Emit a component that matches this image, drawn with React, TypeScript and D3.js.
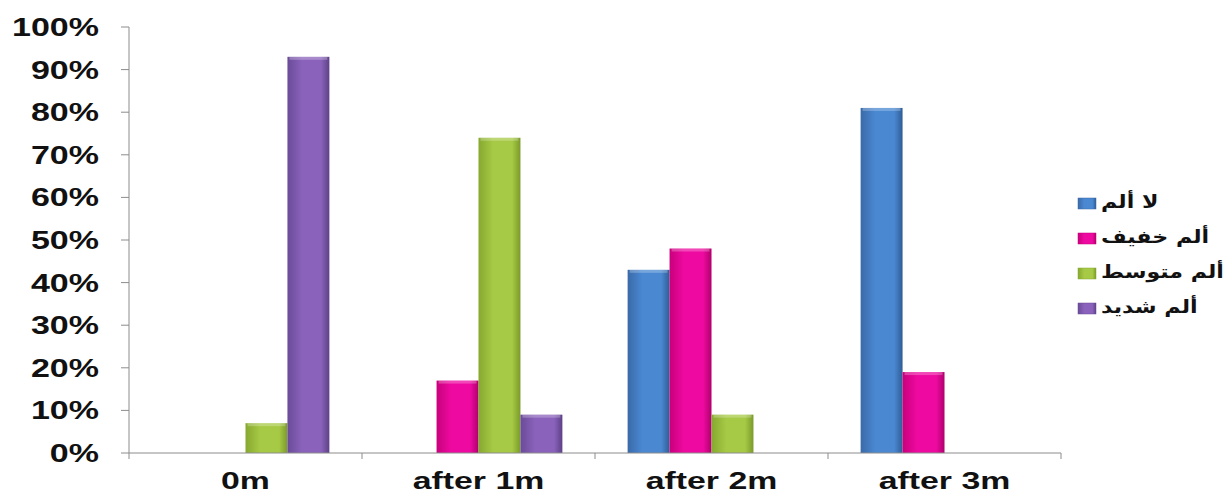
import React from "react";
import * as d3 from "d3";

const categories = ["0m", "after 1m", "after 2m", "after 3m"];
const seriesNames = ["لا ألم", "ألم خفيف", "ألم متوسط", "ألم شديد"];
const noPain = [0, 0, 43, 81];
const mildPain = [0, 17, 48, 19];
const moderatePain = [7, 74, 9, 0];
const severePain = [93, 9, 0, 0];
const yTicks = [0, 10, 20, 30, 40, 50, 60, 70, 80, 90, 100];

const seriesValues = [noPain, mildPain, moderatePain, severePain];
const colors = [
  { l: "#3a6aa8", m: "#4a88d2", d: "#2f5d96" },
  { l: "#c8007c", m: "#ee0aa0", d: "#b0006c" },
  { l: "#86a830", m: "#a6ca45", d: "#7a9a2a" },
  { l: "#6a4b98", m: "#8a62bb", d: "#5d4186" },
];

const W = 1226;
const H = 493;
const left = 129;
const right = 1061;
const top = 27;
const bottom = 453;
const SX = 1.36;

export default function App() {
  const x0 = d3.scaleBand().domain(categories).range([left, right]).paddingInner(0).paddingOuter(0);
  const inner = x0.bandwidth() * 0.72;
  const x1 = d3
    .scaleBand()
    .domain(seriesNames)
    .range([(x0.bandwidth() - inner) / 2, (x0.bandwidth() + inner) / 2])
    .padding(0);
  const y = d3.scaleLinear().domain([0, 100]).range([bottom, top]);
  const font = "'Liberation Sans', Arial, 'DejaVu Sans', sans-serif";
  const boundaries = d3.range(categories.length + 1).map((i) => left + i * x0.bandwidth());

  return (
    <svg width={W} height={H} style={{ position: "absolute", left: 0, top: 0, background: "#fff" }}>
      <defs>
        {colors.map((c, i) => (
          <linearGradient key={i} id={`g${i}`} x1="0" x2="1" y1="0" y2="0">
            <stop offset="0" stopColor={c.l} />
            <stop offset="0.35" stopColor={c.m} />
            <stop offset="0.8" stopColor={c.m} />
            <stop offset="1" stopColor={c.d} />
          </linearGradient>
        ))}
      </defs>
      {/* bars */}
      {categories.map((cat, ci) => (
        <g key={cat} transform={`translate(${x0(cat)},0)`}>
          {seriesNames.map((s, si) => {
            const v = seriesValues[si][ci];
            if (!v) return null;
            const bx = x1(s)!;
            const bw = x1.bandwidth();
            const by = y(v);
            return (
              <g key={s}>
                <rect x={bx} y={by} width={bw} height={bottom - by} fill={`url(#g${si})`} />
                <rect x={bx + 2} y={by} width={bw - 4} height={3} fill="#ffffff" opacity={0.25} />
              </g>
            );
          })}
        </g>
      ))}
      {/* y axis */}
      <line x1={left} x2={left} y1={top} y2={bottom} stroke="#8c8c8c" strokeWidth={1} />
      {yTicks.map((t) => (
        <g key={t}>
          <line x1={left - 8} x2={left} y1={y(t)} y2={y(t)} stroke="#8c8c8c" />
          <text
            transform={`translate(99,${y(t)}) scale(${SX},1)`}
            dy="0.36em"
            textAnchor="end"
            fontFamily={font}
            fontWeight="bold"
            fontSize={25}
            fill="#111"
          >
            {t}%
          </text>
        </g>
      ))}
      {/* x axis */}
      <line x1={left} x2={right} y1={bottom} y2={bottom} stroke="#8c8c8c" strokeWidth={1} />
      {boundaries.map((b, i) => (
        <line key={i} x1={b} x2={b} y1={bottom} y2={bottom + 6} stroke="#8c8c8c" />
      ))}
      {categories.map((c) => (
        <text
          key={c}
          transform={`translate(${x0(c)! + x0.bandwidth() / 2},489) scale(1.44,1)`}
          textAnchor="middle"
          fontFamily={font}
          fontWeight="bold"
          fontSize={23.5}
          fill="#111"
        >
          {c}
        </text>
      ))}
      {/* legend */}
      {seriesNames.map((s, i) => {
        const cy = 203 + i * 35;
        return (
          <g key={s}>
            <rect x={1078} y={cy - 5} width={18} height={11} fill={`url(#g${i})`} stroke={colors[i].l} strokeWidth={0.5} />
            <text
              transform={`translate(1101,${cy - 1}) scale(1.23,1)`}
              dy="0.36em"
              textAnchor="start"
              fontFamily="'DejaVu Sans', sans-serif"
              fontWeight="bold"
              fontSize={18}
              fill="#111"
            >
              {s}
            </text>
          </g>
        );
      })}
    </svg>
  );
}
